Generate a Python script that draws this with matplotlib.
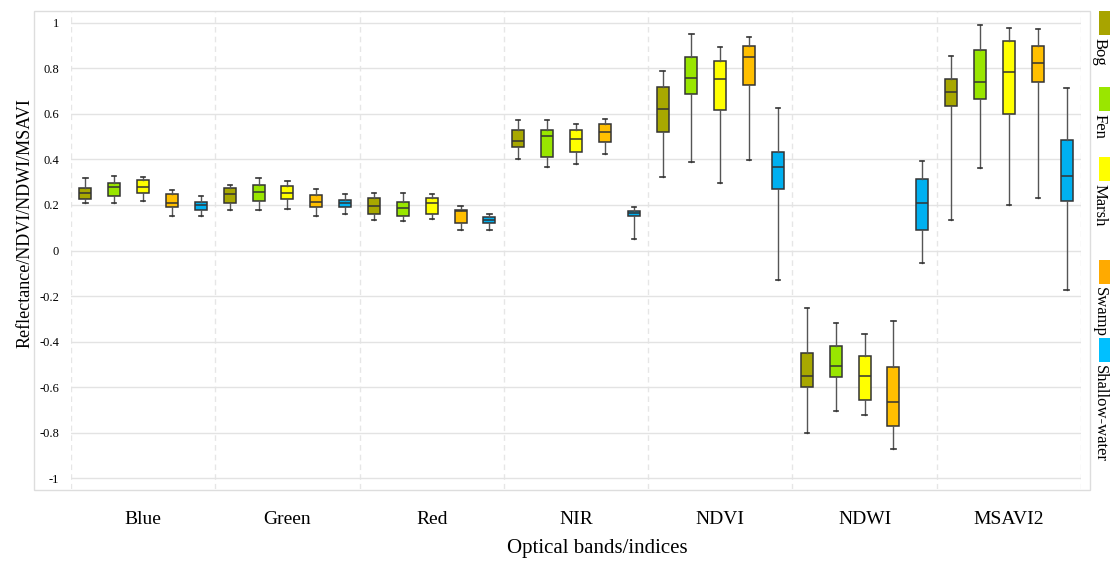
import numpy as np
import matplotlib
matplotlib.use('Agg')
import matplotlib.pyplot as plt
from matplotlib.patches import Rectangle
from matplotlib.ticker import FuncFormatter

plt.rcParams['font.family'] = ['Liberation Serif', 'DejaVu Serif']

bands = ['Blue', 'Green', 'Red', 'NIR', 'NDVI', 'NDWI', 'MSAVI2']
classes = ['Bog', 'Fen', 'Marsh', 'Swamp', 'Shallow-water']
colors = ['#A8A800', '#99E600', '#FFFF00', '#FFBF00', '#00B0F0']
legend_colors = ['#A8A400', '#9AE600', '#FFFF00', '#FFAA00', '#00C0FF']

# (whisker low, q1, median, q3, whisker high) for each band
bog = [(0.207, 0.228, 0.251, 0.276, 0.319),
       (0.177, 0.210, 0.248, 0.276, 0.287),
       (0.133, 0.162, 0.194, 0.229, 0.251),
       (0.400, 0.453, 0.480, 0.530, 0.573),
       (0.325, 0.520, 0.620, 0.717, 0.790),
       (-0.803, -0.601, -0.553, -0.452, -0.253),
       (0.136, 0.633, 0.696, 0.753, 0.855)]
fen = [(0.207, 0.241, 0.278, 0.295, 0.327),
       (0.180, 0.216, 0.257, 0.288, 0.320),
       (0.131, 0.150, 0.187, 0.215, 0.251),
       (0.368, 0.411, 0.502, 0.530, 0.574),
       (0.390, 0.690, 0.760, 0.850, 0.950),
       (-0.706, -0.554, -0.508, -0.418, -0.320),
       (0.363, 0.664, 0.741, 0.880, 0.990)]
marsh = [(0.218, 0.251, 0.278, 0.310, 0.322),
         (0.184, 0.228, 0.251, 0.282, 0.307),
         (0.137, 0.162, 0.210, 0.229, 0.247),
         (0.380, 0.434, 0.489, 0.530, 0.557),
         (0.295, 0.616, 0.753, 0.834, 0.896),
         (-0.724, -0.657, -0.553, -0.464, -0.366),
         (0.200, 0.600, 0.785, 0.921, 0.977)]
swamp = [(0.150, 0.190, 0.207, 0.247, 0.265),
         (0.153, 0.190, 0.212, 0.244, 0.272),
         (0.091, 0.120, 0.174, 0.179, 0.197),
         (0.423, 0.479, 0.523, 0.557, 0.579),
         (0.398, 0.727, 0.850, 0.898, 0.940),
         (-0.873, -0.772, -0.664, -0.512, -0.310),
         (0.231, 0.741, 0.825, 0.900, 0.972)]
shallow = [(0.150, 0.178, 0.200, 0.215, 0.241),
           (0.162, 0.190, 0.210, 0.222, 0.247),
           (0.090, 0.120, 0.134, 0.149, 0.159),
           (0.052, 0.150, 0.164, 0.175, 0.193),
           (-0.130, 0.270, 0.368, 0.432, 0.628),
           (-0.054, 0.092, 0.209, 0.314, 0.393),
           (-0.174, 0.219, 0.326, 0.485, 0.715)]

W, H = 1110, 569
fig = plt.figure(figsize=(W / 100, H / 100), dpi=100)
ax = fig.add_axes([71 / W, 1 - 489.4 / H, (1081 - 71) / W, (489.4 - 11.6) / H])

offsets = [-0.4, -0.2, 0.0, 0.2, 0.4]
for k, (data, col) in enumerate(zip([bog, fen, marsh, swamp, shallow], colors)):
    stats = [dict(whislo=d[0], q1=d[1], med=d[2], q3=d[3], whishi=d[4], fliers=[]) for d in data]
    pos = np.arange(len(bands)) + offsets[k]
    ax.bxp(stats, positions=pos, widths=0.083, patch_artist=True, showfliers=False,
           boxprops=dict(facecolor=col, edgecolor='#333333', linewidth=1.1),
           medianprops=dict(color='#333333', linewidth=1.1),
           whiskerprops=dict(color='#555555', linewidth=1.0),
           capprops=dict(color='#333333', linewidth=1.2), capwidths=0.03)

ax.set_xlim(-0.5, len(bands) - 0.5)
ax.set_ylim(-1.05, 1.05)
ax.set_yticks(np.arange(-1, 1.01, 0.2))
ax.yaxis.set_major_formatter(FuncFormatter(lambda v, p: '%g' % (round(v, 1) + 0.0)))
ax.yaxis.grid(True, color='#E3E3E3', lw=1)
ax.set_axisbelow(True)
for x in np.arange(-0.5, len(bands), 1.0):
    ax.axvline(x, color='#E6E6E6', ls=(0, (4, 3)), lw=1, zorder=0)
for s in ax.spines.values():
    s.set_visible(False)
ax.set_xticks(range(len(bands)))
ax.set_xticklabels(bands, fontsize=14)
ax.tick_params(axis='x', length=0, pad=15.5)
ax.tick_params(axis='y', length=0, pad=8.5, labelsize=9)

fig.add_artist(Rectangle((34 / W, 1 - 490 / H), (1090 - 34) / W, (490 - 11) / H,
                         transform=fig.transFigure, fill=False, edgecolor='#DDDDDD', lw=1))

fig.text(25 / W, 1 - 223 / H, 'Reflectance/NDVI/NDWI/MSAVI', rotation=90,
         ha='center', va='center', fontsize=13)
fig.text(597 / W, 1 - 549 / H, 'Optical bands/indices', ha='center', va='center', fontsize=15)

# legend on the right edge
tops = [11, 87, 157, 260, 338]
for name, col, top in zip(classes, legend_colors, tops):
    fig.add_artist(Rectangle((1099 / W, 1 - (top + 24) / H), 12 / W, 24 / H,
                             transform=fig.transFigure, facecolor=col, edgecolor='none'))
    fig.text(1100 / W, 1 - (top + 27) / H, name, rotation=270, ha='center', va='top',
             fontsize=12)

fig.savefig('out.png', dpi=100)
